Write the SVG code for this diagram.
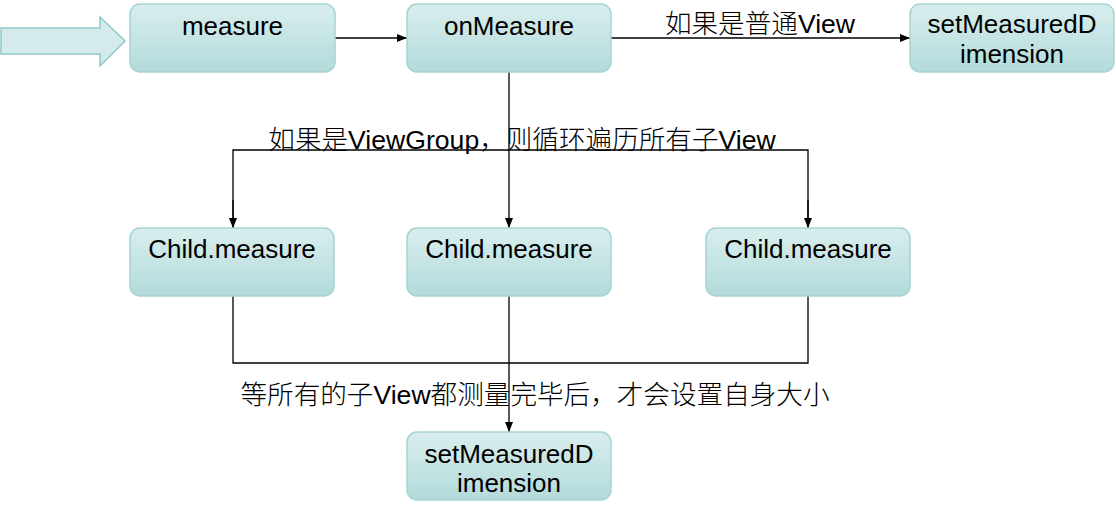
<svg xmlns="http://www.w3.org/2000/svg" width="1116" height="515" viewBox="0 0 1116 515">
<defs>
<linearGradient id="g" x1="0" y1="0" x2="0" y2="1">
<stop offset="0" stop-color="#d9eeee"/>
<stop offset="1" stop-color="#b3dada"/>
</linearGradient>
<marker id="ah" markerWidth="10" markerHeight="10" refX="10" refY="5" orient="auto" markerUnits="userSpaceOnUse">
<path d="M0,1 L10,5 L0,9 Z" fill="#000"/>
</marker>
<style>
.box{fill:url(#g);stroke:#a6d3d3;stroke-width:1.5}
.t{font-family:"Liberation Sans",Arial,sans-serif;font-size:26px;fill:#000;text-anchor:middle}
.lbl{font-family:"Liberation Sans","Noto Sans CJK SC",sans-serif;font-size:26.6px;fill:#000;text-anchor:middle;font-weight:300}
.c{fill:none;stroke:#000;stroke-width:1.3}
.ca{fill:none;stroke:#000;stroke-width:1.3;marker-end:url(#ah)}
</style>
</defs>
<rect width="1116" height="515" fill="#fff"/>
<g id="entry-arrow">
<path d="M1,28 L100,28 L100,17 L125,41 L100,66 L100,54 L1,54 Z" fill="#d5eaea" stroke="#8ec9c9" stroke-width="1.5"/>
</g>
<g id="connectors">
<line class="ca" x1="335" y1="38" x2="407" y2="38"/>
<line class="ca" x1="611" y1="38" x2="910" y2="38"/>
<line class="ca" x1="509" y1="72" x2="509" y2="228"/>
<polyline class="c" points="233,228 233,150 808,150 808,228"/>
<line class="ca" x1="233" y1="200" x2="233" y2="228"/>
<line class="ca" x1="808" y1="200" x2="808" y2="228"/>
<polyline class="c" points="233,296 233,363 808,363 808,296"/>
<line class="ca" x1="509" y1="296" x2="509" y2="432"/>
<text class="lbl" x="760" y="33">如果是普通View</text>
<text class="lbl" x="522" y="149">如果是ViewGroup，则循环遍历所有子View</text>
<text class="lbl" x="535" y="404">等所有的子View都测量完毕后，才会设置自身大小</text>
</g>
<g id="measure">
<rect class="box" x="130" y="4" width="205" height="68" rx="10"/>
<text class="t" x="232.5" y="35">measure</text>
</g>
<g id="onMeasure">
<rect class="box" x="407" y="4" width="204" height="68" rx="10"/>
<text class="t" x="509" y="35">onMeasure</text>
</g>
<g id="setMeasuredDimension-top">
<rect class="box" x="910" y="4" width="204" height="68" rx="10"/>
<text class="t" x="1012" y="33">setMeasuredD</text>
<text class="t" x="1012" y="63">imension</text>
</g>
<g id="child1">
<rect class="box" x="130" y="228" width="204" height="68" rx="10"/>
<text class="t" x="232" y="258">Child.measure</text>
</g>
<g id="child2">
<rect class="box" x="407" y="228" width="204" height="68" rx="10"/>
<text class="t" x="509" y="258">Child.measure</text>
</g>
<g id="child3">
<rect class="box" x="706" y="228" width="204" height="68" rx="10"/>
<text class="t" x="808" y="258">Child.measure</text>
</g>
<g id="setMeasuredDimension-bottom">
<rect class="box" x="407" y="432" width="204" height="68" rx="10"/>
<text class="t" x="509" y="463">setMeasuredD</text>
<text class="t" x="509" y="492">imension</text>
</g>
</svg>
